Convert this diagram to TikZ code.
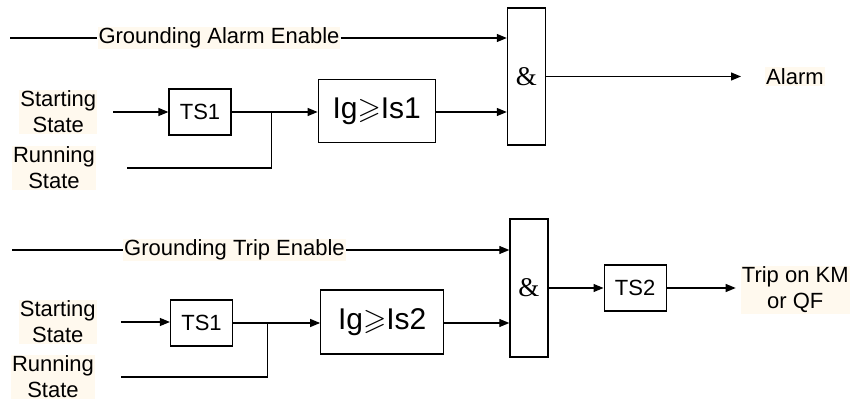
\documentclass[tikz,border=0pt]{standalone}
\usepackage{amssymb}
\usepackage{fontspec}
\setmainfont{Liberation Sans}
\newfontfamily\ampfont{Liberation Serif}
\usetikzlibrary{positioning,arrows.meta}
\definecolor{labelbg}{RGB}{255,249,238}

\begin{document}
\begin{tikzpicture}[
    x=1pt, y=-1pt,
    node distance=20pt,  % gaps below are given per node
    box/.style = {draw, line width=1.2pt, minimum width=62pt, minimum height=46pt, inner sep=0pt, font=\fontsize{22}{26}\selectfont},
    cmp/.style = {box, minimum width=117pt, minimum height=63pt, font=\fontsize{30}{34}\selectfont},
    gate/.style = {draw, line width=1.2pt, minimum width=38pt, minimum height=137pt, inner sep=0pt, font=\ampfont\fontsize{27}{30}\selectfont},
    lbl/.style = {fill=labelbg, inner sep=1pt, align=center, font=\fontsize{22}{26}\selectfont},
    wire/.style = {line width=1.2pt},
    arr/.style = {wire, -{Triangle[length=10pt,width=8pt]}}
  ]
    \useasboundingbox (0,0) rectangle (851,403);

    % alarm branch
    \node[box] (ts1) at (200,112) {TS1};
    \node[cmp] (ig1) [right=86pt of ts1, yshift=1pt] {Ig$\geqslant$Is1};
    \node[gate] (and1) [right=71pt of ig1, yshift=34.5pt] {\&};
    \node[lbl] (alarm) [right=219pt of and1] {Alarm};
    \node[lbl] (start1) [left=71pt of ts1] {Starting\\State};
    \node[lbl] (run1) at (54,168) {Running\\State};
    \node[lbl] (en1) at (219,38) {Grounding Alarm Enable};
    \coordinate (en1s) at (10,38);
    \coordinate (j1) at ([xshift=40pt]ts1.east);

    \draw[wire] (en1s) -- (en1);
    \draw[arr] (en1) -- (en1 -| and1.west);
    \draw[arr, shorten <=16pt] (start1) -- (ts1);
    \draw[arr] (ts1) -- (ts1 -| ig1.west);
    \draw[wire, shorten <=31pt] (run1) -- (run1 -| j1) -- (j1);
    \draw[arr] (ts1 -| ig1.east) -- (ts1 -| and1.west);
    \draw[arr, shorten >=24pt] (and1) -- (alarm);

    % trip branch
    \node[box] (ts1b) at (201.5,323) {TS1};
    \node[cmp, minimum width=123pt, minimum height=64pt] (ig2) [right=87pt of ts1b, yshift=1pt] {Ig$\geqslant$Is2};
    \node[gate, minimum height=138pt] (and2) [right=65pt of ig2, yshift=34pt] {\&};
    \node[box] (ts2) [right=55pt of and2] {TS2};
    \node[lbl] (trip) [right=74pt of ts2, yshift=-2pt] {Trip on KM\\or QF};
    \node[lbl] (start2) [left=73pt of ts1b, yshift=1pt] {Starting\\State};
    \node[lbl] (run2) at (53,377) {Running\\State};
    \node[lbl] (en2) at (234.5,250) {Grounding Trip Enable};
    \coordinate (en2s) at (12,250);
    \coordinate (j2) at ([xshift=34pt]ts1b.east);

    \draw[wire] (en2s) -- (en2);
    \draw[arr] (en2) -- (en2 -| and2.west);
    \draw[arr, shorten <=24pt] (start2) -- (start2 -| ts1b.west);
    \draw[arr] (ts1b) -- (ts1b -| ig2.west);
    \draw[wire, shorten <=26pt] (run2) -- (run2 -| j2) -- (j2);
    \draw[arr] (ts1b -| ig2.east) -- (ts1b -| and2.west);
    \draw[arr] (and2) -- (ts2);
    \draw[arr, shorten >=5pt] (ts2) -- (ts2 -| trip.west);
\end{tikzpicture}
\end{document}
